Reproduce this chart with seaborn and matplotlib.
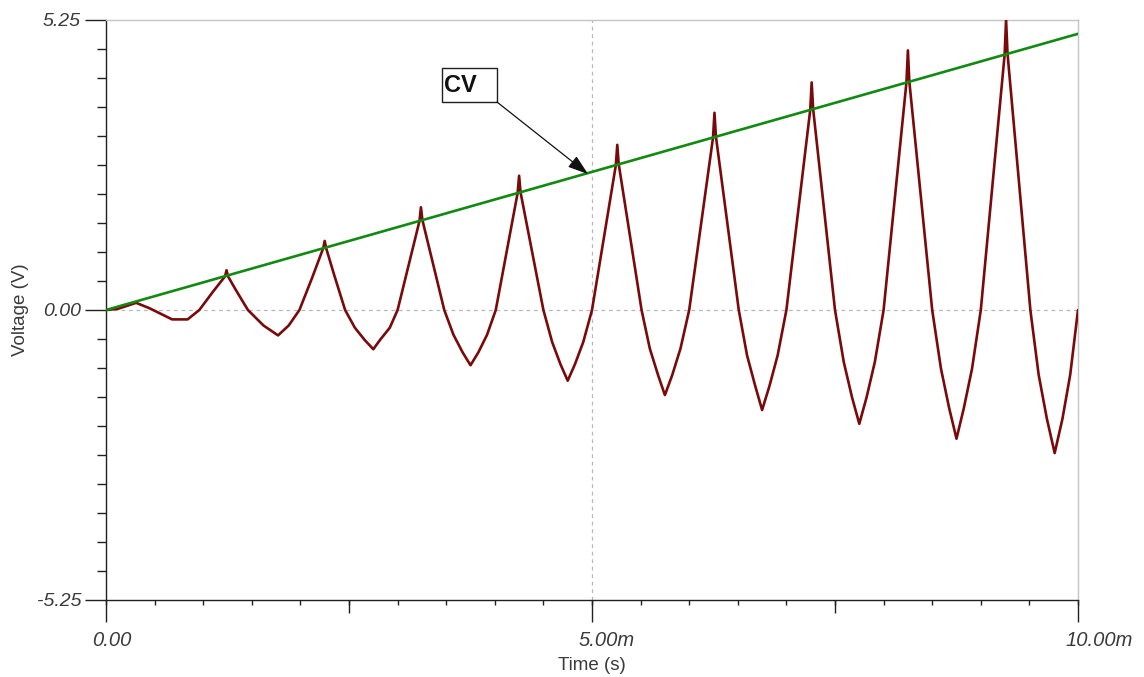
import numpy as np
import pandas as pd
import seaborn as sns
import matplotlib
matplotlib.use("Agg")
import matplotlib.pyplot as plt
from matplotlib.patches import Rectangle
from matplotlib.ticker import FixedLocator, MultipleLocator

# ---------------- data (time in ms, voltage in V) ----------------
cv_time = [0.0, 10.0]
cv_volt = [0.0, 5.0]

out_time = [0.00, 0.12, 0.31, 0.45, 0.68, 0.84, 0.96, 1.10, 1.225, 1.24, 1.255, 1.33,
            1.46, 1.62, 1.77, 1.88, 1.99, 2.12, 2.235, 2.25, 2.265, 2.35,
            2.46, 2.56, 2.66, 2.75, 2.82, 2.92,
            3.00, 3.225, 3.24, 3.255,
            3.48, 3.575, 3.67, 3.75, 3.83, 3.92,
            4.01, 4.235, 4.25, 4.265,
            4.50, 4.59, 4.675, 4.75, 4.825, 4.91,
            5.00, 5.245, 5.26, 5.275,
            5.51, 5.595, 5.68, 5.75, 5.825, 5.91,
            6.00, 6.245, 6.26, 6.275,
            6.51, 6.595, 6.68, 6.75, 6.825, 6.91,
            7.00, 7.245, 7.26, 7.275,
            7.50, 7.59, 7.675, 7.75, 7.825, 7.91,
            8.00, 8.235, 8.25, 8.265,
            8.50, 8.59, 8.675, 8.75, 8.825, 8.91,
            9.00, 9.245, 9.26, 9.275,
            9.51, 9.595, 9.68, 9.76, 9.84, 9.92,
            10.00]
out_volt = [0.00, 0.02, 0.13, 0.03, -0.17, -0.17, 0.00, 0.33, 0.61, 0.72, 0.61, 0.38,
            0.00, -0.28, -0.46, -0.28, 0.00, 0.58, 1.12, 1.25, 1.12, 0.62,
            0.00, -0.32, -0.54, -0.71, -0.54, -0.32,
            0.00, 1.61, 1.86, 1.63,
            0.00, -0.45, -0.77, -1.00, -0.77, -0.45,
            0.00, 2.12, 2.43, 2.13,
            0.00, -0.58, -0.98, -1.28, -0.98, -0.58,
            0.00, 2.62, 2.99, 2.64,
            0.00, -0.70, -1.18, -1.54, -1.18, -0.70,
            0.00, 3.12, 3.57, 3.14,
            0.00, -0.82, -1.38, -1.81, -1.38, -0.82,
            0.00, 3.62, 4.12, 3.64,
            0.00, -0.94, -1.58, -2.06, -1.58, -0.94,
            0.00, 4.12, 4.70, 4.13,
            0.00, -1.06, -1.78, -2.33, -1.78, -1.06,
            0.00, 4.62, 5.25, 4.64,
            0.00, -1.17, -1.97, -2.59, -1.97, -1.17,
            0.00]

x_tick_vals = [0.0, 5.0, 10.0]
x_tick_labels = ["0.00", "5.00m", "10.00m"]
y_tick_vals = [-5.25, 0.0, 5.25]
y_tick_labels = ["-5.25", "0.00", "5.25"]

# ---------------- style ----------------
sns.set_theme(style="white")
plt.rcParams["font.family"] = ["Liberation Sans", "DejaVu Sans"]

W, H = 1144, 677
fig = plt.figure(figsize=(W / 100, H / 100), dpi=100)
ax = fig.add_axes([106 / W, 77 / H, 972 / W, 580 / H])

df_out = pd.DataFrame({"t": out_time, "v": out_volt})
df_cv = pd.DataFrame({"t": cv_time, "v": cv_volt})

# reference grid lines
ax.axhline(0, color="#b8b8b8", lw=0.9, ls=(0, (3, 3)), zorder=0)
ax.axvline(5, color="#b8b8b8", lw=0.9, ls=(0, (3, 3)), zorder=0)

sns.lineplot(data=df_out, x="t", y="v", ax=ax, color="#7a0a0a", lw=1.9,
             sort=False, estimator=None, zorder=3)
sns.lineplot(data=df_cv, x="t", y="v", ax=ax, color="#118a11", lw=1.9,
             sort=False, estimator=None, zorder=4)

ax.set_xlim(0, 10)
ax.set_ylim(-5.25, 5.25)

# spines
for s in ["top", "right"]:
    ax.spines[s].set_color("#c4c4c4")
    ax.spines[s].set_linewidth(1.0)
for s in ["left", "bottom"]:
    ax.spines[s].set_color("#202020")
    ax.spines[s].set_linewidth(1.0)

# y ticks
ax.yaxis.set_major_locator(FixedLocator(y_tick_vals))
ax.set_yticklabels(y_tick_labels)
ax.yaxis.set_minor_locator(MultipleLocator(0.525))
ax.tick_params(axis="y", which="major", direction="out", length=15, width=1,
               color="#202020", pad=3, labelsize=14, labelcolor="#3a3a3a", left=True)
ax.tick_params(axis="y", which="minor", direction="out", length=6.5, width=1,
               color="#202020", left=True)
for lbl in ax.get_yticklabels():
    lbl.set_fontstyle("italic")

# x ticks: long at 0/5/10, medium at 2.5/7.5, short every 0.5
ax.xaxis.set_major_locator(FixedLocator(x_tick_vals))
ax.xaxis.set_minor_locator(FixedLocator([2.5, 7.5]))
ax.set_xticklabels([])
ax.tick_params(axis="x", which="major", direction="out", length=16, width=1,
               color="#202020", bottom=True)
ax.tick_params(axis="x", which="minor", direction="out", length=9, width=1,
               color="#202020", bottom=True)
sec = ax.secondary_xaxis("bottom")
sec.set_xticks(list(np.arange(0, 10.01, 0.5)))
sec.set_xticklabels([])
sec.tick_params(direction="out", length=3.8, width=1, color="#202020")
sec.spines["bottom"].set_visible(False)

# x tick labels (number centred just right of tick, unit suffix hanging)
x_label_shift = [6, 15, 21]
for xv, txt, dx in zip(x_tick_vals, x_tick_labels, x_label_shift):
    ax.annotate(txt, xy=(xv, 0), xycoords=("data", "axes fraction"),
                xytext=(dx * 0.72, -22), textcoords="offset points",
                ha="center", va="top", fontsize=14.5, fontstyle="italic",
                color="#3a3a3a", annotation_clip=False)

ax.set_xlabel("Time (s)", fontsize=13.5, color="#3a3a3a")
ax.set_ylabel("Voltage (V)", fontsize=13.5, color="#3a3a3a")
ax.xaxis.set_label_coords(0.5, -0.098)
ax.yaxis.set_label_coords(-0.079, 0.5)

# CV label box with arrow
ax.add_patch(Rectangle((3.457, 3.765), 0.566, 0.615, facecolor="white",
                       edgecolor="#202020", lw=1.0, zorder=6, clip_on=False))
ax.text(3.475, 4.07, "CV", fontsize=17, fontweight="bold", color="#111111",
        ha="left", va="center", zorder=7)
ax.annotate("", xy=(4.96, 2.46), xytext=(4.023, 3.765),
            arrowprops=dict(arrowstyle="-|>,head_length=0.9,head_width=0.3",
                            color="#111111", lw=0.9, shrinkA=0, shrinkB=0,
                            mutation_scale=14),
            zorder=6)

fig.savefig("out.png", dpi=100)
